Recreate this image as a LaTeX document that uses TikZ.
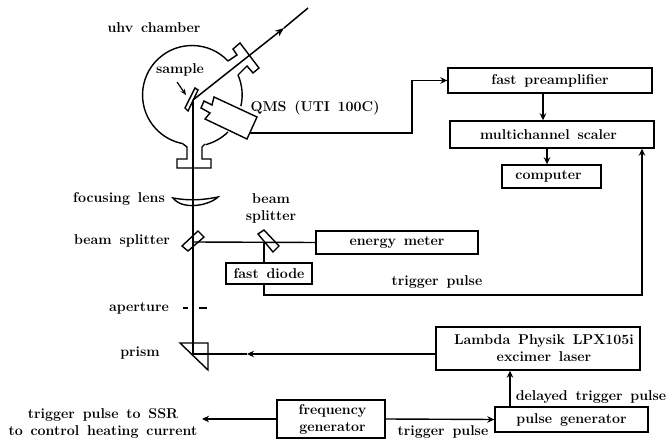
\documentclass[tikz,border=0pt]{standalone}
\usetikzlibrary{arrows.meta,calc}
\newcommand{\lblfont}{\fontsize{14.2}{16}\selectfont\bfseries\spaceskip=.55em\relax}
\tikzset{
  lbl/.style={align=center, font=\lblfont, inner sep=0pt},
  box/.style={draw, line width=1.4pt, rectangle, align=center, inner sep=0pt, font=\lblfont},
  optic/.style={draw, line width=1.4pt, line join=miter, fill=none},
  beam/.style={line width=1.5pt},
  conn/.style={line width=1.4pt},
  arr/.style={line width=1.4pt, -{Stealth[length=7pt,width=6.5pt]}},
}
\begin{document}
\begin{tikzpicture}[x=1pt,y=-1pt]
\useasboundingbox (0,0) rectangle (666,443);
% labels
\node[lbl] (uhv) at (154,28) {uhv chamber};
\node[lbl] (samp) at (180,70) {sample};
\node[lbl] (qms) at (315,108) {QMS (UTI 100C)};
\node[lbl] (foc) at (119,199) {focusing lens};
\node[lbl] (bs1) at (122,241) {beam splitter};
\node[lbl] (bs2a) at (271,199) {beam};
\node[lbl] (bs2b) at (271,217) {splitter};
\node[lbl] (apt) at (139,308.5) {aperture};
\node[lbl] (pri) at (140,353) {prism};
\node[lbl] (tp1) at (437,282) {trigger pulse};
\node[lbl] (tp2) at (443,432) {trigger pulse};
\node[lbl] (dtp) at (591,397) {delayed trigger pulse};
\node[lbl] (ssr1) at (103,415) {trigger pulse to SSR};
\node[lbl] (ssr2) at (103,432) {to control heating current};
% boxes
\node[box, minimum width=204pt, minimum height=25pt] (fp) at (550,80.5) {fast preamplifier};
\node[box, minimum width=204pt, minimum height=27pt] (ms) at (552,134.5) {\hspace*{-7pt}multichannel scaler};
\node[box, minimum width=99pt, minimum height=23pt] (pc) at (551.5,176.5) {\hspace*{-6pt}computer};
\node[box, minimum width=162pt, minimum height=23pt] (em) at (397,242.5) {energy meter};
\node[box, minimum width=86pt, minimum height=21pt] (fd) at (269,273.5) {fast diode};
\node[box, minimum width=204pt, minimum height=43pt] (las) at (538,348.5) {\hspace*{12pt}Lambda Physik LPX105i\\[1pt]\hspace*{12pt}excimer laser};
\node[box, minimum width=153pt, minimum height=25pt] (pg) at (571.5,419.5) {pulse generator};
\node[box, minimum width=108pt, minimum height=38pt] (fg) at (331,419) {\hspace*{3pt}frequency\\[1pt]\hspace*{3pt}generator};
% chamber
\draw[optic] (228,61) arc[start angle=43.4, end angle=259.6, radius=49.5pt];
\draw[optic] (238,75) arc[start angle=23.5, end angle=-13, radius=50pt];
\draw[optic] (228,132) arc[start angle=-45.8, end angle=-75, radius=51pt];
\draw[optic] (183,144) -- (187,147) -- (187,159) -- (177,159) -- (177,168) -- (211,168) -- (211,159) -- (202,159) -- (202,147) -- (205,144);
\draw[optic] (228,61) -- (237,55) -- (233,49) -- (240,43) -- (259,68) -- (253,73) -- (247,66) -- (238,75);
\draw[optic] (214,97) -- (257,117) -- (247,139) -- (205,119) -- (210,113) -- (201,108) -- (204,101) -- (212,105) -- cycle;
\draw[optic] (195,88) -- (198,90) -- (188,111) -- (185,108) -- cycle;
\coordinate (sampcontact) at (193,100);
\coordinate (tipb) at (308,8);
\coordinate (midb) at (284,28);
\draw[beam, -{Stealth[length=9pt,width=7pt]}] (sampcontact) -- (midb);
\draw[beam] (midb) -- (tipb);
\coordinate (sa) at (177,82);
\coordinate (sb) at (186,95);
\draw[line width=1.2pt, -{Stealth[length=6pt,width=5pt]}] (sa) -- (sb);
% lens
\draw[optic] (173,198) .. controls (190,201) and (203,200) .. (218,197) .. controls (210,205) and (183,211) .. cycle;
% beam splitters
\draw[optic] (198,231) -- (204,237) -- (188,251) -- (182,246) -- cycle;
\draw[optic] (264,230) -- (258,234) -- (273,252) -- (279,246) -- cycle;
% aperture
\draw[line width=1.6pt] (183,308) -- (188,308) (199,308) -- (207,308);
% prism
\draw[optic] (180,343) -- (208,343) -- (208,370) -- cycle;
% beams
\coordinate (pb) at (193,354);
\draw[beam] (sampcontact) -- (pb);
\coordinate (bsc) at (193,242);
\coordinate (bsd) at (264,242);
\draw[conn] (bsc) -- (em.west);
\draw[conn] (bsd) -- (bsd |- fd.north);
\coordinate (lasm) at (247,354);
\draw[arr] (las.west |- lasm) -- (lasm);
\draw[beam] (lasm) -- (pb);
% signal lines
\coordinate (qo) at (250,133);
\coordinate (q1) at (412,133);
\draw[arr] (qo) -- (q1) -- (q1 |- fp.west) -- (fp.west);
\draw[arr] ([xshift=-7pt]fp.south) -- ([xshift=-9pt]ms.north);
\draw[arr] ([xshift=-5pt]ms.south) -- ([xshift=-4.5pt]pc.north);
\coordinate (d0) at (264,295);
\coordinate (d1) at (642,295);
\draw[arr] (d0 |- fd.south) -- (d0) -- (d1) -- (d1 |- ms.south);
\coordinate (pgt) at (510,407);
\draw[arr] (pgt) -- (pgt |- las.south);
\draw[arr] (fg.west) -- (202,419);
\draw[arr] (fg.east) -- (pg.west);
\end{tikzpicture}
\end{document}
